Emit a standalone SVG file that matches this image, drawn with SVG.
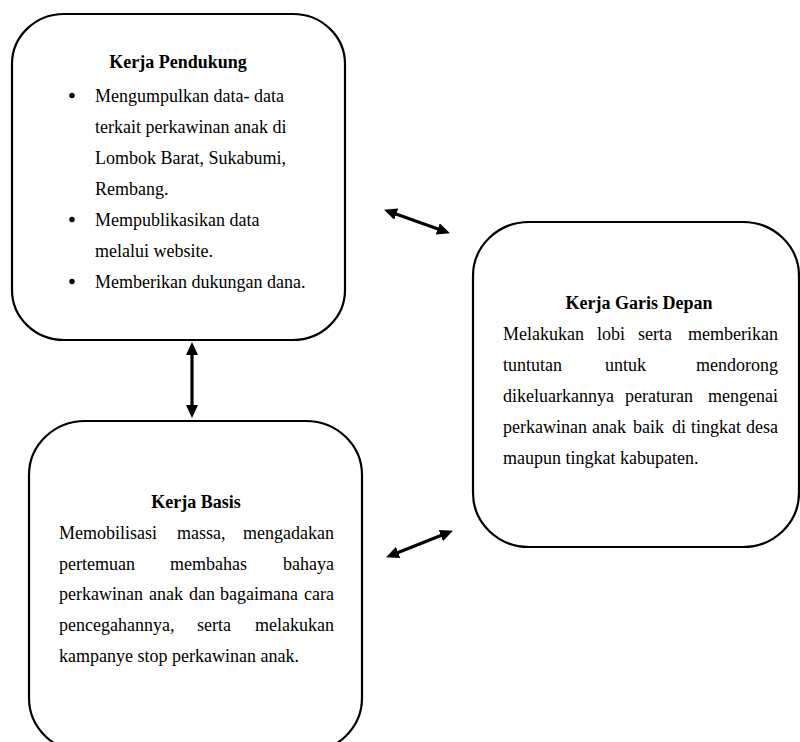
<svg xmlns="http://www.w3.org/2000/svg" width="800" height="742" viewBox="0 0 800 742">
<style>
.box{fill:#fff;stroke:#000;stroke-width:2.2}
text{font-family:"Liberation Serif","Times New Roman",serif;font-size:18px;fill:#000}
.t{font-weight:bold;text-anchor:middle}
.e{text-anchor:end}
.c{stroke:#000;stroke-width:3.2;fill:none;marker-start:url(#ah);marker-end:url(#ah)}
</style>
<defs>
<marker id="ah" markerUnits="userSpaceOnUse" markerWidth="14" markerHeight="12" refX="4" refY="6" orient="auto-start-reverse">
<path d="M0,0 L13,6 L0,12 z" fill="#000"/>
</marker>
</defs>
<rect width="800" height="742" fill="#fff"/>
<g id="connectors">
<line class="c" x1="192" y1="351" x2="192" y2="409"/>
<line class="c" x1="392.5" y1="212.7" x2="441.5" y2="230.3"/>
<line class="c" x1="394.4" y1="554" x2="444.6" y2="534"/>
</g>
<g id="kerja-pendukung">
<rect class="box" x="12" y="14" width="333" height="326" rx="52" ry="50"/>
<text class="t" x="178" y="68">Kerja Pendukung</text>
<circle cx="72" cy="95.5" r="2.7"/>
<circle cx="72" cy="219.5" r="2.7"/>
<circle cx="72" cy="281.5" r="2.7"/>
<text x="95" y="102">Mengumpulkan data- data</text>
<text x="95" y="133">terkait perkawinan anak di</text>
<text x="95" y="164">Lombok Barat, Sukabumi,</text>
<text x="95" y="195">Rembang.</text>
<text x="95" y="226">Mempublikasikan data</text>
<text x="95" y="257">melalui website.</text>
<text x="95" y="288">Memberikan dukungan dana.</text>
</g>
<g id="kerja-basis">
<rect class="box" x="29" y="421" width="333" height="331" rx="56" ry="54"/>
<text class="t" x="196" y="508">Kerja Basis</text>
<text x="59" y="539">Memobilisasi</text><text x="177" y="539">massa,</text><text class="e" x="334" y="539">mengadakan</text>
<text x="59" y="570">pertemuan</text><text x="170" y="570">membahas</text><text class="e" x="334" y="570">bahaya</text>
<text x="59" y="600">perkawinan</text><text x="149" y="600">anak</text><text x="189" y="600">dan</text><text x="220" y="600">bagaimana</text><text class="e" x="334" y="600">cara</text>
<text x="59" y="631">pencegahannya,</text><text x="197" y="631">serta</text><text class="e" x="334" y="631">melakukan</text>
<text x="59" y="662">kampanye stop perkawinan anak.</text>
</g>
<g id="kerja-garis-depan">
<rect class="box" x="473" y="222" width="326" height="325" rx="56" ry="54"/>
<text class="t" x="639" y="309">Kerja Garis Depan</text>
<text x="503" y="340">Melakukan</text><text x="597" y="340">lobi</text><text x="638" y="340">serta</text><text class="e" x="778" y="340">memberikan</text>
<text x="503" y="371">tuntutan</text><text x="605" y="371">untuk</text><text class="e" x="778" y="371">mendorong</text>
<text x="503" y="402">dikeluarkannya</text><text x="625" y="402">peraturan</text><text class="e" x="778" y="402">mengenai</text>
<text x="503" y="433">perkawinan</text><text x="592" y="433">anak</text><text x="633" y="433">baik</text><text x="672" y="433">di</text><text x="691" y="433">tingkat</text><text class="e" x="778" y="433">desa</text>
<text x="503" y="464">maupun tingkat kabupaten.</text>
</g>
</svg>
